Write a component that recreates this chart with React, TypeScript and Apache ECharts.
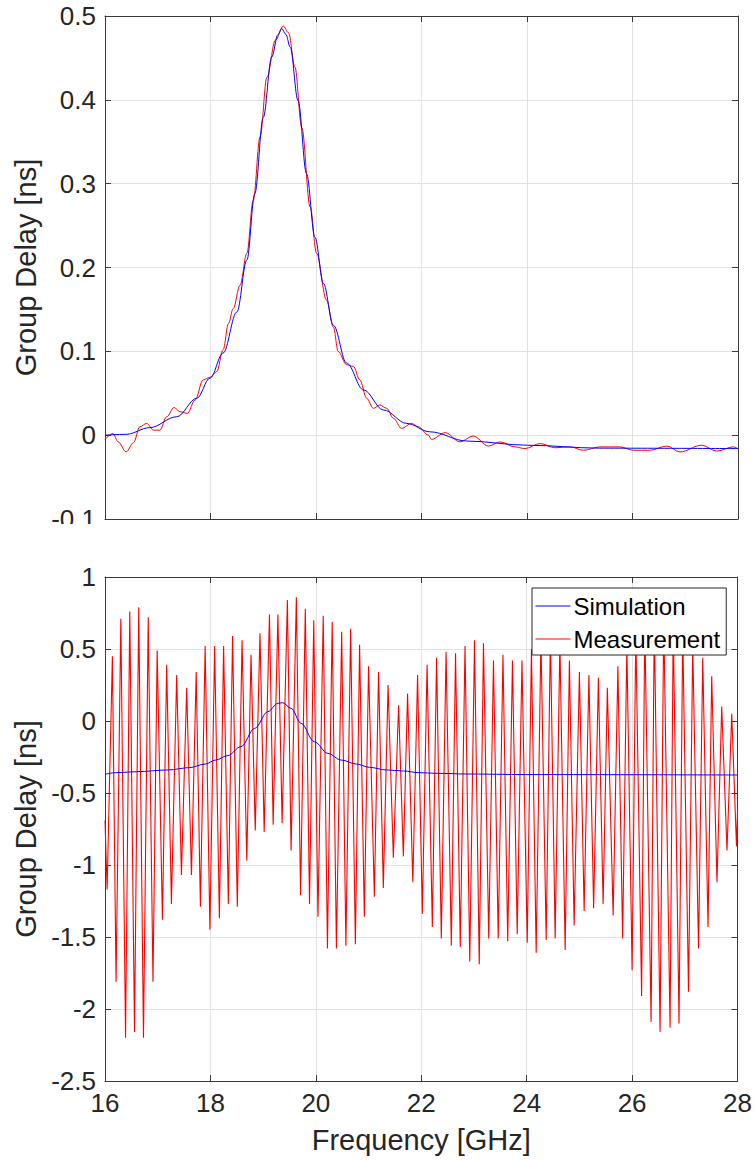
import React, { useEffect, useRef } from "react";
import * as echarts from "echarts";

// ---------- Data ----------
const topSimFreq = [16.0, 16.4, 16.85, 17.36, 17.74, 17.99, 18.24, 18.5, 18.69, 18.84, 19.0, 19.16, 19.28, 19.35, 19.43, 19.51, 19.66, 19.82, 19.98, 20.14, 20.33, 20.58, 20.9, 21.28, 21.72, 22.16, 22.86, 24.01, 25.38, 28.0];
const topSimDelay = [0.0, 0.001, 0.009, 0.022, 0.044, 0.068, 0.098, 0.147, 0.209, 0.288, 0.379, 0.451, 0.478, 0.485, 0.478, 0.463, 0.399, 0.312, 0.236, 0.181, 0.131, 0.086, 0.054, 0.03, 0.014, 0.004, -0.007, -0.012, -0.0155, -0.016];

const topMeasFreq = [16.0, 16.15, 16.25, 16.4, 16.54, 16.66, 16.79, 16.92, 17.04, 17.17, 17.31, 17.42, 17.56, 17.71, 17.86, 17.99, 18.12, 18.24, 18.34, 18.43, 18.56, 18.69, 18.81, 18.94, 19.07, 19.23, 19.38, 19.48, 19.6, 19.73, 19.89, 20.01, 20.2, 20.33, 20.42, 20.58, 20.71, 20.83, 20.96, 21.09, 21.21, 21.34, 21.47, 21.62, 21.81, 21.94, 22.13, 22.19, 22.45, 22.73, 22.98, 23.27, 23.49, 23.77, 23.96, 24.25, 24.53, 24.82, 25.07, 25.38, 25.76, 26.02, 26.33, 26.65, 26.9, 27.31, 27.6, 27.91, 28.0];
const topMeasDelay = [-0.005, 0.002, -0.008, -0.02, -0.009, 0.01, 0.014, 0.006, 0.006, 0.022, 0.033, 0.028, 0.026, 0.042, 0.066, 0.069, 0.076, 0.102, 0.133, 0.151, 0.179, 0.217, 0.28, 0.356, 0.427, 0.471, 0.488, 0.48, 0.439, 0.367, 0.272, 0.217, 0.161, 0.129, 0.1, 0.084, 0.082, 0.066, 0.044, 0.032, 0.036, 0.032, 0.02, 0.008, 0.014, 0.01, 0.0, -0.005, 0.003, -0.008, -0.001, -0.013, -0.008, -0.014, -0.016, -0.01, -0.015, -0.014, -0.018, -0.014, -0.014, -0.018, -0.018, -0.013, -0.02, -0.012, -0.019, -0.014, -0.016];

const botSimFreq = [16.0, 16.2, 16.6, 17.2, 17.6, 17.9, 18.1, 18.33, 18.58, 18.84, 19.09, 19.28, 19.37, 19.53, 19.72, 19.97, 20.23, 20.48, 20.77, 21.02, 21.34, 21.66, 21.96, 22.28, 22.85, 24.0, 28.0];
const botSimDelay = [-0.37, -0.359, -0.352, -0.34, -0.324, -0.299, -0.271, -0.24, -0.178, -0.051, 0.065, 0.123, 0.127, 0.088, -0.016, -0.144, -0.225, -0.271, -0.299, -0.322, -0.34, -0.347, -0.359, -0.363, -0.368, -0.372, -0.375];

const botMeasFreq = [
  16.0, 16.04, 16.14, 16.21, 16.3, 16.39, 16.47, 16.56, 16.64, 16.73, 16.82, 16.91, 16.99, 17.09, 17.17, 17.26, 17.36, 17.45, 17.55, 17.64, 17.73, 17.81, 17.9, 17.99, 18.08, 18.17, 18.25, 18.34,
  18.42, 18.51, 18.6, 18.69, 18.77, 18.85, 18.94, 19.02, 19.12, 19.19, 19.28, 19.36, 19.46, 19.53, 19.63, 19.71, 19.8, 19.88, 19.96, 20.04, 20.14, 20.22, 20.31, 20.39, 20.49, 20.57, 20.66, 20.75,
  20.83, 20.92, 21.0, 21.11, 21.19, 21.28, 21.37, 21.47, 21.57, 21.66, 21.74, 21.84, 21.93, 22.02, 22.11, 22.21, 22.29, 22.38, 22.47, 22.57, 22.65, 22.74, 22.83, 22.92, 23.01, 23.1,
  23.18, 23.28, 23.37, 23.46, 23.55, 23.64, 23.73, 23.82, 23.91, 24.01, 24.09, 24.18, 24.27, 24.37, 24.45, 24.54, 24.63, 24.73, 24.81, 24.9, 25.0, 25.09, 25.18, 25.27, 25.36, 25.45, 25.53,
  25.64, 25.73, 25.82, 25.9, 26.0, 26.07, 26.18, 26.24, 26.36, 26.42, 26.53, 26.6, 26.72, 26.78, 26.89, 26.96, 27.07, 27.15, 27.26, 27.34, 27.44, 27.51, 27.61, 27.7, 27.8, 27.89, 27.98, 28.0,
];
const botMeasDelay = [
  -0.69, -1.17, 0.45, -1.81, 0.71, -2.2, 0.76, -2.16, 0.79, -2.2, 0.72, -1.81, 0.49, -1.38, 0.39, -1.27, 0.32, -1.07, 0.23, -1.07, 0.34, -1.29, 0.52, -1.45, 0.52, -1.37, 0.52, -1.27,
  0.59, -1.29, 0.56, -0.97, 0.46, -0.76, 0.61, -0.77, 0.74, -0.72, 0.74, -0.71, 0.84, -0.9, 0.86, -1.21, 0.78, -1.27, 0.7, -1.36, 0.73, -1.58, 0.69, -1.58, 0.62, -1.56, 0.64, -1.55,
  0.53, -1.36, 0.38, -1.22, 0.34, -1.16, 0.25, -0.95, 0.11, -0.94, 0.19, -1.12, 0.32, -1.34, 0.39, -1.43, 0.44, -1.51, 0.48, -1.56, 0.47, -1.57, 0.52, -1.67, 0.56, -1.69,
  0.54, -1.51, 0.42, -1.51, 0.46, -1.53, 0.42, -1.48, 0.42, -1.54, 0.5, -1.61, 0.58, -1.52, 0.6, -1.51, 0.55, -1.59, 0.42, -1.42, 0.34, -1.32, 0.32, -1.3, 0.3, -1.27, 0.23,
  -1.35, 0.38, -1.51, 0.52, -1.73, 0.62, -1.91, 0.68, -2.09, 0.72, -2.16, 0.72, -2.13, 0.68, -2.1, 0.62, -1.88, 0.52, -1.58, 0.44, -1.43, 0.31, -1.12, 0.1, -0.9, 0.05, -0.87, -0.62,
];

const xTicks = { min: 16, max: 28, interval: 2 };
const topY = { min: -0.1, max: 0.5, interval: 0.1 };
const botY = { min: -2.5, max: 1, interval: 0.5 };

const zip = (xs: number[], ys: number[]) => xs.map((x, i) => [x, ys[i]]);

const FONT = "'Liberation Sans', Arial, Helvetica, sans-serif";
const AXIS_COLOR = "#3a3a3a";
const TEXT_COLOR = "#262626";
const GRID_COLOR = "#e2e2e2";

function makeX(gridIndex: number, position: "top" | "bottom", labels: boolean, name?: string) {
  return {
    type: "value",
    gridIndex,
    position,
    ...xTicks,
    name: name || "",
    nameLocation: "middle",
    nameGap: 44,
    nameTextStyle: { fontFamily: FONT, fontSize: 29, color: TEXT_COLOR },
    axisLine: { show: true, onZero: false, lineStyle: { color: AXIS_COLOR, width: 1 } },
    axisTick: { show: true, inside: true, length: 6, lineStyle: { color: AXIS_COLOR } },
    axisLabel: { show: labels, fontFamily: FONT, fontSize: 26, color: TEXT_COLOR, margin: 9 },
    splitLine: { show: position === "bottom", lineStyle: { color: GRID_COLOR, width: 1 } },
  };
}

function makeY(gridIndex: number, position: "left" | "right", labels: boolean, range: any, name?: string) {
  return {
    type: "value",
    gridIndex,
    position,
    ...range,
    name: name || "",
    nameLocation: "middle",
    nameGap: 60,
    nameTextStyle: { fontFamily: FONT, fontSize: 29, color: TEXT_COLOR },
    axisLine: { show: true, onZero: false, lineStyle: { color: AXIS_COLOR, width: 1 } },
    axisTick: { show: true, inside: true, length: 6, lineStyle: { color: AXIS_COLOR } },
    axisLabel: {
      show: labels,
      fontFamily: FONT,
      fontSize: 26,
      color: TEXT_COLOR,
      margin: 9,
      formatter: (v: number) => String(Math.round(v * 10) / 10),
    },
    splitLine: { show: position === "left", lineStyle: { color: GRID_COLOR, width: 1 } },
  };
}

export default function App() {
  const ref = useRef<HTMLDivElement>(null);
  useEffect(() => {
    if (!ref.current) return;
    const chart = echarts.init(ref.current, null, { renderer: "svg" });
    chart.setOption({
      animation: false,
      backgroundColor: "#ffffff",
      grid: [
        { left: 105, top: 16, width: 633, height: 503 },
        { left: 105, top: 577, width: 633, height: 504 },
      ],
      xAxis: [
        makeX(0, "bottom", false),
        makeX(0, "top", false),
        makeX(1, "bottom", true, "Frequency [GHz]"),
        makeX(1, "top", false),
      ],
      yAxis: [
        makeY(0, "left", true, topY, "Group Delay [ns]"),
        makeY(0, "right", false, topY),
        makeY(1, "left", true, botY, "Group Delay [ns]"),
        makeY(1, "right", false, botY),
      ],
      legend: {
        data: ["Simulation", "Measurement"],
        orient: "vertical",
        left: 532,
        top: 588,
        padding: [6, 6, 4, 3],
        itemWidth: 35,
        itemHeight: 14,
        itemGap: 9,
        itemStyle: { opacity: 0 },
        lineStyle: { width: 1 },
        backgroundColor: "#ffffff",
        borderColor: "#262626",
        borderWidth: 1,
        borderRadius: 0,
        selectedMode: false,
        textStyle: { fontFamily: FONT, fontSize: 24, color: "#000000", lineHeight: 24, padding: [0, 0, 0, -2] },
      },
      series: [
        {
          name: "Measurement",
          type: "line",
          xAxisIndex: 0,
          yAxisIndex: 0,
          data: zip(topMeasFreq, topMeasDelay),
          showSymbol: false,
          symbol: "none",
          smooth: 0.35,
          smoothMonotone: "x",
          lineStyle: { color: "#ff0000", width: 1 },
          itemStyle: { color: "#ff0000" },
        },
        {
          name: "Simulation",
          type: "line",
          xAxisIndex: 0,
          yAxisIndex: 0,
          data: zip(topSimFreq, topSimDelay),
          showSymbol: false,
          symbol: "none",
          smooth: 0.35,
          smoothMonotone: "x",
          lineStyle: { color: "#0000ff", width: 1 },
          itemStyle: { color: "#0000ff" },
        },
        {
          name: "Measurement",
          type: "line",
          xAxisIndex: 2,
          yAxisIndex: 2,
          data: zip(botMeasFreq, botMeasDelay),
          showSymbol: false,
          symbol: "none",
          lineStyle: { color: "#ff0000", width: 1.1 },
          itemStyle: { color: "#ff0000" },
        },
        {
          name: "Simulation",
          type: "line",
          xAxisIndex: 2,
          yAxisIndex: 2,
          data: zip(botSimFreq, botSimDelay),
          showSymbol: false,
          symbol: "none",
          smooth: 0.35,
          smoothMonotone: "x",
          lineStyle: { color: "#0000ff", width: 1 },
          itemStyle: { color: "#0000ff" },
        },
      ],
      graphic: [
        {
          type: "rect",
          left: 0,
          top: 524,
          shape: { width: 100, height: 32 },
          style: { fill: "#ffffff" },
          z: 100,
        },
      ],
    });
    return () => chart.dispose();
  }, []);
  return (
    <div
      ref={ref}
      style={{ position: "absolute", left: 0, top: 0, width: 755, height: 1160 }}
    />
  );
}
